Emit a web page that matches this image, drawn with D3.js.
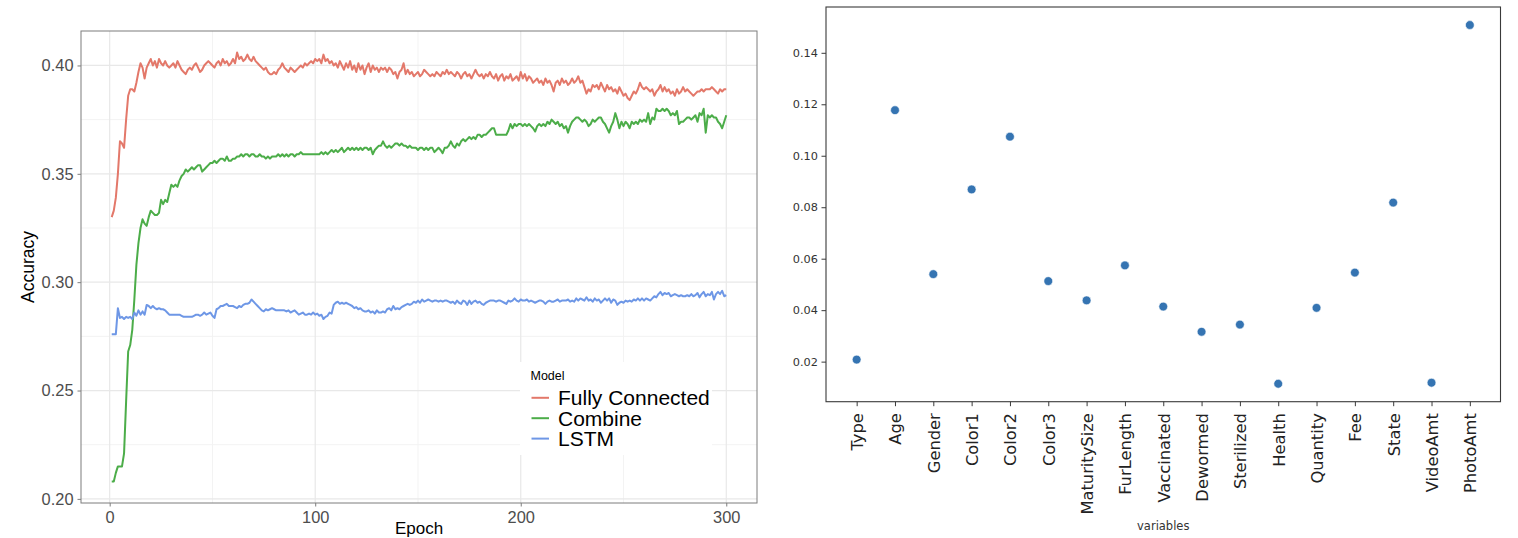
<!DOCTYPE html>
<html><head><meta charset="utf-8">
<script src="https://cdn.jsdelivr.net/npm/d3@7/dist/d3.min.js"></script>
<style>body{margin:0;background:#fff}svg{display:block}</style>
</head><body>
<svg id="c" width="1518" height="538"></svg>
<script>
// ---------- Left chart data (accuracy per epoch 1..300) ----------
const models = ["Fully Connected", "Combine", "LSTM"];
const modelColors = ["#e3786a", "#4cad49", "#6e97e6"];
const fullyConnected = [
0.330,0.333,0.339,0.350,0.365,0.364,0.362,0.375,0.386,0.389,0.389,0.388,0.392,0.397,0.401,0.399,0.394,0.399,0.401,0.403,
0.400,0.402,0.399,0.403,0.401,0.400,0.402,0.400,0.399,0.400,0.401,0.399,0.402,0.400,0.398,0.397,0.396,0.398,0.399,0.398,
0.400,0.401,0.399,0.397,0.398,0.400,0.401,0.402,0.401,0.400,0.399,0.401,0.402,0.400,0.403,0.401,0.402,0.400,0.401,0.403,
0.401,0.406,0.403,0.404,0.402,0.403,0.405,0.403,0.402,0.404,0.402,0.401,0.400,0.399,0.398,0.399,0.397,0.396,0.396,0.397,
0.396,0.398,0.399,0.401,0.399,0.398,0.397,0.399,0.398,0.397,0.398,0.399,0.400,0.399,0.401,0.400,0.401,0.402,0.401,0.403,
0.402,0.403,0.401,0.405,0.402,0.403,0.401,0.402,0.400,0.401,0.399,0.402,0.400,0.398,0.401,0.399,0.402,0.398,0.400,0.397,
0.401,0.398,0.400,0.396,0.399,0.401,0.397,0.400,0.398,0.399,0.397,0.399,0.398,0.399,0.397,0.399,0.398,0.396,0.397,0.394,
0.397,0.398,0.401,0.396,0.398,0.396,0.397,0.395,0.396,0.397,0.395,0.396,0.398,0.397,0.396,0.395,0.396,0.395,0.397,0.396,
0.395,0.397,0.396,0.398,0.396,0.397,0.396,0.395,0.397,0.396,0.394,0.396,0.397,0.395,0.396,0.394,0.396,0.398,0.396,0.395,
0.396,0.394,0.396,0.395,0.397,0.395,0.394,0.396,0.393,0.395,0.396,0.393,0.395,0.394,0.396,0.393,0.394,0.395,0.393,0.397,
0.394,0.396,0.393,0.395,0.394,0.392,0.393,0.394,0.392,0.393,0.391,0.394,0.392,0.393,0.391,0.388,0.392,0.393,0.391,0.394,
0.392,0.393,0.391,0.392,0.394,0.392,0.393,0.395,0.392,0.393,0.390,0.387,0.389,0.388,0.391,0.390,0.391,0.389,0.392,0.390,
0.388,0.391,0.389,0.390,0.388,0.389,0.387,0.390,0.388,0.386,0.387,0.385,0.384,0.386,0.388,0.387,0.389,0.392,0.390,0.389,
0.390,0.389,0.388,0.389,0.386,0.388,0.389,0.391,0.388,0.390,0.388,0.389,0.387,0.388,0.386,0.389,0.387,0.388,0.390,0.388,
0.389,0.388,0.387,0.386,0.387,0.388,0.388,0.389,0.388,0.389,0.389,0.389,0.390,0.389,0.388,0.387,0.389,0.388,0.389,0.389];
const combine = [
0.208,0.208,0.212,0.215,0.215,0.215,0.221,0.245,0.268,0.271,0.278,0.292,0.308,0.318,0.325,0.329,0.327,0.326,0.330,0.333,
0.332,0.331,0.331,0.332,0.338,0.336,0.338,0.337,0.341,0.345,0.344,0.345,0.344,0.347,0.349,0.350,0.352,0.351,0.352,0.353,
0.352,0.353,0.354,0.354,0.351,0.352,0.353,0.354,0.355,0.355,0.356,0.355,0.356,0.357,0.357,0.356,0.358,0.356,0.356,0.357,
0.357,0.358,0.358,0.359,0.358,0.359,0.359,0.358,0.359,0.359,0.358,0.358,0.359,0.358,0.358,0.357,0.358,0.357,0.358,0.358,
0.358,0.359,0.358,0.359,0.358,0.359,0.358,0.359,0.359,0.358,0.359,0.359,0.360,0.359,0.359,0.359,0.359,0.359,0.359,0.359,
0.359,0.359,0.360,0.359,0.360,0.359,0.360,0.361,0.360,0.361,0.360,0.361,0.362,0.360,0.361,0.362,0.361,0.362,0.361,0.362,
0.361,0.362,0.361,0.362,0.362,0.361,0.362,0.359,0.361,0.362,0.363,0.363,0.365,0.363,0.362,0.363,0.362,0.363,0.364,0.364,
0.363,0.364,0.363,0.363,0.362,0.363,0.362,0.362,0.362,0.361,0.362,0.362,0.361,0.362,0.361,0.362,0.362,0.360,0.361,0.362,
0.361,0.3595,0.362,0.362,0.363,0.365,0.363,0.362,0.364,0.363,0.365,0.366,0.365,0.366,0.367,0.366,0.367,0.366,0.368,0.368,
0.367,0.368,0.368,0.369,0.370,0.371,0.371,0.368,0.368,0.368,0.368,0.368,0.368,0.370,0.373,0.371,0.373,0.372,0.373,0.373,
0.372,0.373,0.372,0.373,0.372,0.371,0.3695,0.372,0.373,0.372,0.373,0.372,0.374,0.373,0.375,0.374,0.373,0.374,0.372,0.373,
0.371,0.372,0.369,0.372,0.374,0.375,0.376,0.376,0.375,0.374,0.375,0.374,0.372,0.373,0.375,0.374,0.375,0.376,0.376,0.374,
0.373,0.371,0.369,0.372,0.374,0.378,0.375,0.371,0.374,0.372,0.374,0.373,0.371,0.374,0.373,0.374,0.373,0.375,0.374,0.375,
0.374,0.378,0.373,0.376,0.375,0.380,0.379,0.379,0.380,0.379,0.380,0.379,0.377,0.378,0.377,0.379,0.373,0.374,0.374,0.375,
0.376,0.376,0.375,0.376,0.377,0.374,0.378,0.377,0.380,0.369,0.377,0.376,0.377,0.376,0.376,0.374,0.373,0.371,0.374,0.377];
const lstm = [
0.276,0.276,0.276,0.288,0.2835,0.284,0.283,0.284,0.2835,0.284,0.283,0.286,0.2845,0.287,0.285,0.2865,0.285,0.2895,0.289,0.288,
0.289,0.288,0.2875,0.288,0.2875,0.2875,0.287,0.286,0.285,0.285,0.285,0.285,0.285,0.285,0.2845,0.284,0.284,0.284,0.284,0.284,
0.2845,0.285,0.285,0.2845,0.285,0.286,0.285,0.2855,0.286,0.2845,0.2835,0.2875,0.288,0.289,0.289,0.2895,0.290,0.289,0.289,0.289,
0.2885,0.288,0.289,0.2885,0.2895,0.290,0.290,0.2905,0.292,0.291,0.290,0.289,0.288,0.287,0.2865,0.2875,0.287,0.2875,0.288,0.2875,
0.287,0.287,0.287,0.287,0.287,0.2865,0.287,0.286,0.2865,0.287,0.286,0.285,0.2855,0.286,0.285,0.285,0.2855,0.285,0.286,0.285,
0.2855,0.2845,0.285,0.283,0.284,0.2845,0.286,0.2855,0.2895,0.2905,0.291,0.290,0.2905,0.290,0.2905,0.290,0.2895,0.289,0.288,0.2885,
0.2875,0.288,0.287,0.2865,0.2865,0.287,0.286,0.2865,0.2855,0.287,0.286,0.286,0.2865,0.286,0.2875,0.288,0.287,0.289,0.2875,0.288,
0.2875,0.2885,0.289,0.2895,0.290,0.2895,0.290,0.291,0.2905,0.2915,0.2905,0.292,0.291,0.2915,0.292,0.2915,0.291,0.2915,0.2915,0.291,
0.2915,0.291,0.2915,0.2915,0.291,0.2905,0.291,0.290,0.2915,0.2905,0.290,0.2915,0.291,0.2895,0.2915,0.290,0.291,0.2915,0.2905,0.291,
0.290,0.2895,0.2905,0.291,0.2915,0.2915,0.2915,0.291,0.2915,0.2915,0.291,0.2905,0.290,0.2915,0.291,0.2915,0.2925,0.2915,0.291,0.292,
0.2915,0.2915,0.292,0.291,0.2915,0.291,0.2905,0.291,0.2915,0.2915,0.291,0.290,0.291,0.2915,0.291,0.291,0.2915,0.292,0.291,0.2915,
0.2915,0.2915,0.292,0.291,0.2915,0.291,0.2925,0.2915,0.2925,0.292,0.2915,0.293,0.2915,0.292,0.291,0.2925,0.2915,0.292,0.2905,0.2915,
0.2925,0.2915,0.2925,0.2905,0.292,0.2915,0.2895,0.2905,0.291,0.2905,0.2915,0.291,0.2915,0.291,0.292,0.2915,0.2925,0.2915,0.2925,0.2915,
0.2925,0.292,0.2915,0.2925,0.2935,0.293,0.2945,0.2955,0.294,0.295,0.2945,0.295,0.2935,0.294,0.2945,0.294,0.2935,0.294,0.2935,0.2935,
0.294,0.2935,0.2945,0.2935,0.294,0.295,0.293,0.2945,0.2955,0.2935,0.2945,0.294,0.2955,0.292,0.2945,0.2955,0.2945,0.296,0.2935,0.294];
const epochTicks = [0, 100, 200, 300];
const epochMinor = [50, 150, 250];
const accTicks = [0.20, 0.25, 0.30, 0.35, 0.40];
const accMinor = [0.225, 0.275, 0.325, 0.375];

// ---------- Right chart data ----------
const variables = ["Type","Age","Gender","Color1","Color2","Color3","MaturitySize","FurLength","Vaccinated","Dewormed","Sterilized","Health","Quantity","Fee","State","VideoAmt","PhotoAmt"];
const importance = [0.0208,0.1177,0.0540,0.0869,0.1074,0.0513,0.0438,0.0574,0.0414,0.0316,0.0344,0.0114,0.0409,0.0546,0.0818,0.0118,0.1508];
const impTicks = [0.02,0.04,0.06,0.08,0.10,0.12,0.14];

const svg = d3.select("#c");

// ================= LEFT (ggplot-like) =================
const L = {left:81, right:757, top:31, bottom:503};
const x = d3.scaleLinear().domain([-13.95, 314.95]).range([L.left, L.right]);
const y = d3.scaleLinear().domain([0.1981, 0.4159]).range([L.bottom, L.top]);
const lg = svg.append("g");
lg.append("rect").attr("x",L.left).attr("y",L.top).attr("width",L.right-L.left).attr("height",L.bottom-L.top).attr("fill","#fff");
// grid
lg.selectAll(".gxm").data(epochMinor).join("line").attr("x1",d=>x(d)).attr("x2",d=>x(d)).attr("y1",L.top).attr("y2",L.bottom).attr("stroke","#f3f3f3").attr("stroke-width",1);
lg.selectAll(".gym").data(accMinor).join("line").attr("y1",d=>y(d)).attr("y2",d=>y(d)).attr("x1",L.left).attr("x2",L.right).attr("stroke","#f3f3f3").attr("stroke-width",1);
lg.selectAll(".gx").data(epochTicks).join("line").attr("x1",d=>x(d)).attr("x2",d=>x(d)).attr("y1",L.top).attr("y2",L.bottom).attr("stroke","#e8e8e8").attr("stroke-width",1.2);
lg.selectAll(".gy").data(accTicks).join("line").attr("y1",d=>y(d)).attr("y2",d=>y(d)).attr("x1",L.left).attr("x2",L.right).attr("stroke","#e8e8e8").attr("stroke-width",1.2);

// lines
const seriesData = [fullyConnected, combine, lstm];
const line = d3.line().x((d,i)=>x(i+1)).y(d=>y(d));
seriesData.forEach((s,k)=>{
  lg.append("path").datum(s).attr("d",line).attr("fill","none").attr("stroke",modelColors[k]).attr("stroke-width",2).attr("stroke-linejoin","round");
});
// border
lg.append("rect").attr("x",L.left).attr("y",L.top).attr("width",L.right-L.left).attr("height",L.bottom-L.top).attr("fill","none").attr("stroke","#7d7d7d").attr("stroke-width",1);

// axes
const ax = lg.append("g").attr("transform",`translate(0,${L.bottom})`).call(d3.axisBottom(x).tickValues(epochTicks).tickSize(3.5).tickPadding(5).tickFormat(d3.format("d")));
const ay = lg.append("g").attr("transform",`translate(${L.left},0)`).call(d3.axisLeft(y).tickValues(accTicks).tickSize(3.5).tickPadding(4).tickFormat(d3.format(".2f")));
[ax,ay].forEach(a=>{
  a.select(".domain").remove();
  a.selectAll(".tick line").attr("stroke","#7d7d7d");
  a.selectAll(".tick text").attr("fill","#4d4d4d").style("font-family","'Liberation Sans', Arial, sans-serif").style("font-size","16.4px");
});
lg.append("text").attr("transform","translate(34,267) rotate(-90)").attr("text-anchor","middle").style("font-family","'Liberation Sans', Arial, sans-serif").style("font-size","17.5px").attr("fill","#000").text("Accuracy");
lg.append("text").attr("x",(L.left+L.right)/2).attr("y",533.5).attr("text-anchor","middle").style("font-family","'Liberation Sans', Arial, sans-serif").style("font-size","17px").attr("fill","#000").text("Epoch");

// legend
const leg = lg.append("g");
leg.append("rect").attr("x",520).attr("y",362).attr("width",192).attr("height",93).attr("fill","#fff");
leg.append("text").attr("x",530.5).attr("y",379.5).style("font-family","'Liberation Sans', Arial, sans-serif").style("font-size","12.5px").attr("fill","#000").text("Model");
models.forEach((m,i)=>{
  const cy = 397.8 + i*20.4;
  leg.append("line").attr("x1",531.5).attr("x2",549).attr("y1",cy).attr("y2",cy).attr("stroke",modelColors[i]).attr("stroke-width",2);
  leg.append("text").attr("x",558).attr("y",cy+7.6).style("font-family","'Liberation Sans', Arial, sans-serif").style("font-size","21px").attr("fill","#000").text(m);
});

// ================= RIGHT (matplotlib-like) =================
const R = {left:826, right:1500.5, top:7, bottom:401.7};
const xr = d3.scaleLinear().domain([-0.8, 16.8]).range([R.left, R.right]);
const yr = d3.scaleLinear().domain([0.00443, 0.1578]).range([R.bottom, R.top]);
const rg = svg.append("g");
rg.selectAll("circle").data(importance).join("circle")
  .attr("cx",(d,i)=>xr(i)).attr("cy",d=>yr(d)).attr("r",4.4)
  .attr("fill","#3574b2").attr("stroke","#fff").attr("stroke-width",0.6);
rg.append("rect").attr("x",R.left).attr("y",R.top).attr("width",R.right-R.left).attr("height",R.bottom-R.top).attr("fill","none").attr("stroke","#3a3a3a").attr("stroke-width",1.1);

const ayr = rg.append("g").attr("transform",`translate(${R.left},0)`).call(d3.axisLeft(yr).tickValues(impTicks).tickSize(4.5).tickPadding(3.5).tickFormat(d3.format(".2f")));
ayr.select(".domain").remove();
ayr.selectAll(".tick line").attr("stroke","#3a3a3a");
ayr.selectAll(".tick text").attr("fill","#333").style("font-family","'DejaVu Sans', sans-serif").style("font-size","11.3px");

const axr = rg.append("g").attr("transform",`translate(0,${R.bottom})`).call(d3.axisBottom(xr).tickValues(d3.range(variables.length)).tickSize(4.5).tickFormat(i=>variables[i]));
axr.select(".domain").remove();
axr.selectAll(".tick line").attr("stroke","#3a3a3a");
axr.selectAll(".tick text")
  .attr("transform","rotate(-90)").attr("text-anchor","end").attr("x",-11.5).attr("y",0).attr("dy","0.36em")
  .attr("fill","#222").style("font-family","'DejaVu Sans', sans-serif").style("font-size","16.3px");
rg.append("text").attr("x",(R.left+R.right)/2).attr("y",529.5).attr("text-anchor","middle").style("font-family","'DejaVu Sans', sans-serif").style("font-size","11.5px").attr("fill","#333").text("variables");
</script>
</body></html>
